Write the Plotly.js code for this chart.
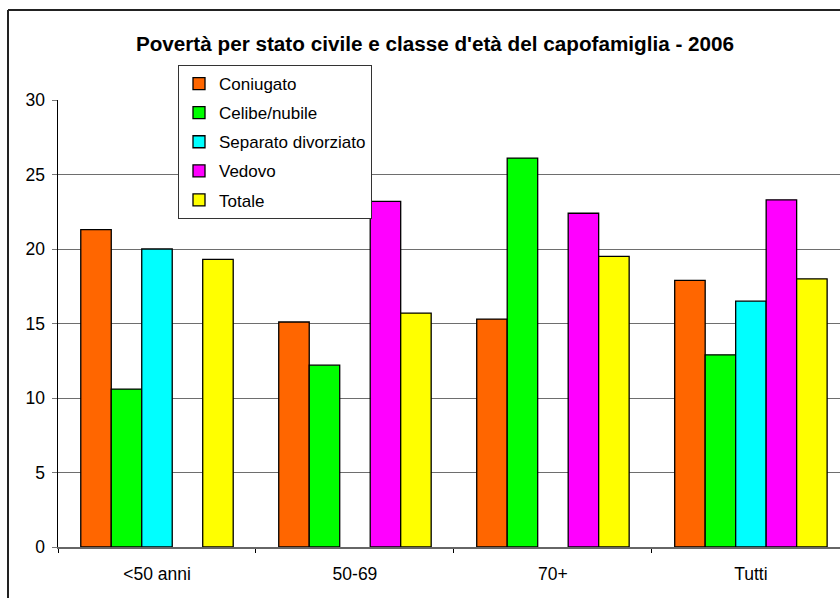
<!DOCTYPE html>
<html>
<head>
<meta charset="utf-8">
<script src="https://cdn.plot.ly/plotly-3.0.1.min.js"></script>
<style>
html,body{margin:0;padding:0;background:#fff;overflow:hidden;}
#chart{width:840px;height:598px;}
</style>
</head>
<body>
<div id="chart"></div>
<script>
// Data
const categories = ["<50 anni", "50-69", "70+", "Tutti"];
const seriesNames = ["Coniugato", "Celibe/nubile", "Separato divorziato", "Vedovo", "Totale"];
const coniugato = [21.3, 15.1, 15.3, 17.9];
const celibeNubile = [10.6, 12.2, 26.1, 12.9];
const separatoDivorziato = [20.0, null, null, 16.5];
const vedovo = [null, 23.2, 22.4, 23.3];
const totale = [19.3, 15.7, 19.5, 18.0];
const yTickVals = [0, 5, 10, 15, 20, 25, 30];

const seriesValues = [coniugato, celibeNubile, separatoDivorziato, vedovo, totale];
const colors = ["#FF6600", "#00FF00", "#00FFFF", "#FF00FF", "#FFFF00"];

const FONT = "Liberation Sans, Arial, sans-serif";

const traces = seriesNames.map((name, i) => ({
  type: "bar",
  name: name,
  x: categories,
  y: seriesValues[i],
  legendgroup: "g" + i,
  marker: {color: colors[i], line: {color: "#000000", width: 1.3}},
  hoverinfo: "x+y+name"
}));

// plot area: left 58px, right 840px, top 100px, bottom 547px
const L = 58, R = 840, T = 100, B = 547;
const px = v => (v - L) / (R - L);
const py = v => (B - v) / (B - T);

const layout = {
  width: 840,
  height: 598,
  margin: {l: L, r: 840 - R, t: T, b: 598 - B, pad: 0},
  paper_bgcolor: "#ffffff",
  plot_bgcolor: "#ffffff",
  font: {family: FONT, color: "#000000", size: 17},
  title: {
    text: "<b>Povertà per stato civile e classe d'età del capofamiglia - 2006</b>",
    font: {family: FONT, size: 20.7, color: "#000000"},
    x: 435 / 840, xanchor: "center", xref: "container",
    y: 1 - 44 / 598, yanchor: "middle", yref: "container"
  },
  barmode: "group",
  bargap: 0.23,
  bargroupgap: 0,
  xaxis: {
    type: "category",
    range: [-0.5, 3.45],
    tickson: "boundaries",
    ticks: "outside",
    ticklen: 4,
    tickwidth: 1,
    tickcolor: "#000000",
    showline: true,
    linecolor: "#666666",
    linewidth: 2,
    showgrid: false,
    zeroline: false,
    ticklabelstandoff: 10,
    tickfont: {family: FONT, size: 17.5, color: "#000000"},
    fixedrange: true
  },
  yaxis: {
    range: [0, 30],
    tickvals: yTickVals,
    ticktext: yTickVals.map(String),
    ticks: "outside",
    ticklen: 5,
    tickwidth: 1,
    tickcolor: "#777777",
    showline: true,
    linecolor: "#000000",
    linewidth: 1.5,
    showgrid: true,
    gridcolor: "#6e6e6e",
    gridwidth: 1,
    zeroline: false,
    ticklabelstandoff: 3,
    tickfont: {family: FONT, size: 17.5, color: "#000000"},
    fixedrange: true
  },
  showlegend: true,
  legend: {
    x: px(178), y: py(65),
    xanchor: "left", yanchor: "top",
    bgcolor: "#ffffff",
    bordercolor: "#333333",
    borderwidth: 1,
    font: {family: FONT, size: 17, color: "#000000"},
    tracegroupgap: 4,
    traceorder: "grouped",
    itemclick: false
  },
  shapes: [
    {type: "line", xref: "paper", yref: "paper", x0: px(8), x1: px(850), y0: py(10), y1: py(10),
     line: {color: "#222222", width: 2}},
    {type: "line", xref: "paper", yref: "paper", x0: px(8), x1: px(8), y0: py(10), y1: py(610),
     line: {color: "#222222", width: 2}}
  ]
};

Plotly.newPlot("chart", traces, layout, {displayModeBar: false, staticPlot: true});
</script>
</body>
</html>
